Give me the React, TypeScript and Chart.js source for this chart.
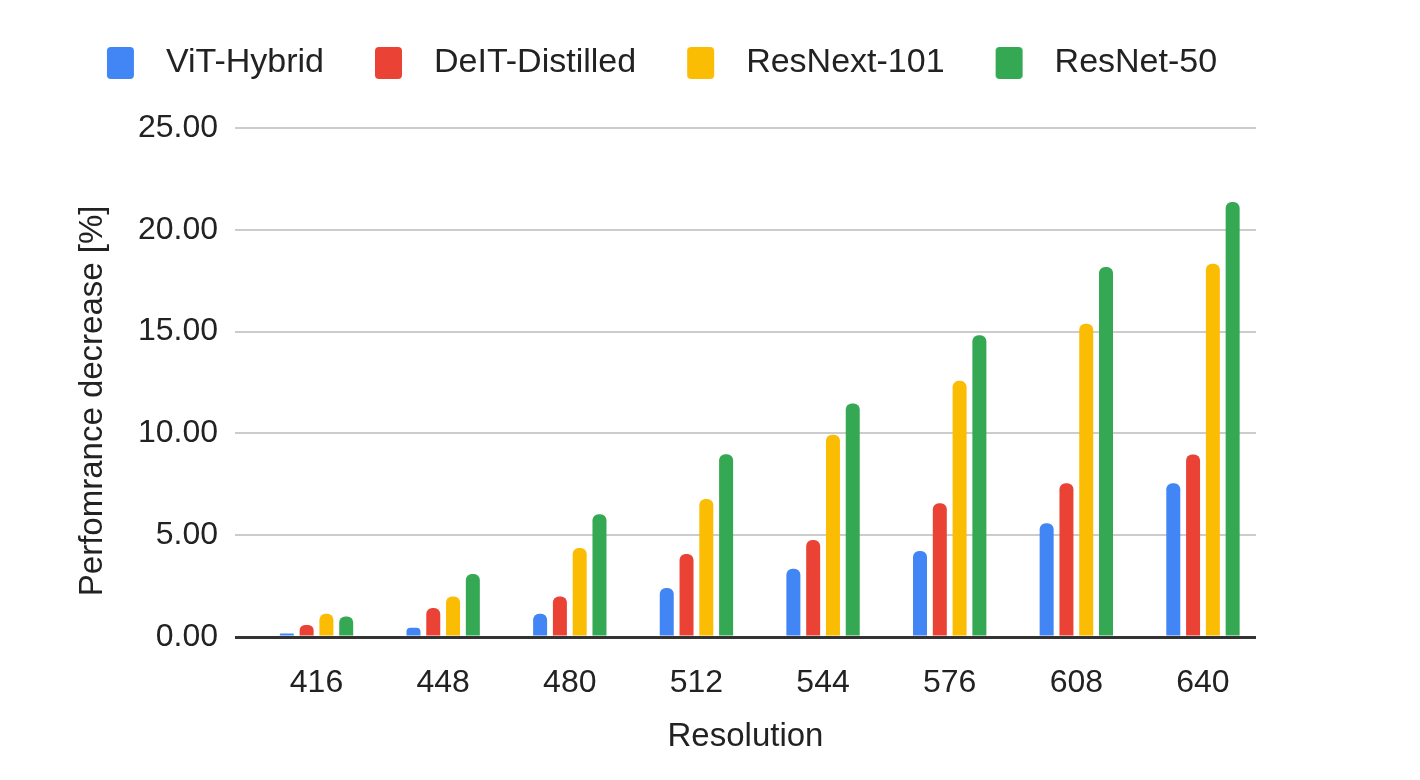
import { useEffect, useRef } from 'react'
import { Chart, registerables } from 'chart.js'

Chart.register(...registerables)

// values
const resolutions = [416, 448, 480, 512, 544, 576, 608, 640]
const vitHybrid = [0.17, 0.46, 1.14, 2.41, 3.35, 4.22, 5.59, 7.55]
const deitDistilled = [0.59, 1.43, 1.99, 4.08, 4.77, 6.57, 7.55, 8.96]
const resnext101 = [1.14, 1.99, 4.37, 6.78, 9.93, 12.58, 15.39, 18.33]
const resnet50 = [1.01, 3.09, 6.03, 8.98, 11.47, 14.82, 18.17, 21.37]

const seriesNames = ['ViT-Hybrid', 'DeIT-Distilled', 'ResNext-101', 'ResNet-50']
const seriesColors = ['#4285f4', '#ea4335', '#fbbc04', '#34a853']
const yTickValues = [0, 5, 10, 15, 20, 25]

const FAMILY = '"Liberation Sans", Arial, Helvetica, sans-serif'
const TEXT = '#222222'

// legend swatch: transparent room in front, rounded box, room after it
function swatch(color: string) {
  const c = document.createElement('canvas')
  c.width = 73
  c.height = 34
  const ctx = c.getContext('2d')!
  ctx.fillStyle = color
  ctx.beginPath()
  ctx.roundRect(31, 1, 27, 32, 4)
  ctx.fill()
  return c
}

export default function App() {
  const canvasRef = useRef<HTMLCanvasElement>(null)

  useEffect(() => {
    document.body.style.margin = '0'
    if (!canvasRef.current) return
    const ctx = canvasRef.current.getContext('2d')
    if (!ctx) return

    const series = [vitHybrid, deitDistilled, resnext101, resnet50]
    const swatches = seriesColors.map(swatch)

    const chart = new Chart(ctx, {
      type: 'bar',
      data: {
        datasets: series.map((values, i) => ({
          label: seriesNames[i],
          data: values.map((v, j) => ({ x: resolutions[j], y: v })),
          backgroundColor: seriesColors[i],
          borderRadius: { topLeft: 6, topRight: 6, bottomLeft: 0, bottomRight: 0 },
          borderSkipped: false,
          categoryPercentage: 0.625,
          barPercentage: 0.707,
        })),
      },
      options: {
        responsive: true,
        maintainAspectRatio: false,
        animation: false,
        layout: { padding: { top: 26, left: 37, right: 164, bottom: 0 } },
        plugins: {
          tooltip: { enabled: false },
          legend: {
            position: 'top',
            labels: {
              usePointStyle: true,
              pointStyleWidth: 73,
              padding: 20,
              color: TEXT,
              font: { family: FAMILY, size: 34 },
              generateLabels: (c) =>
                Chart.defaults.plugins.legend.labels.generateLabels(c).map((item, i) => ({
                  ...item,
                  pointStyle: swatches[i],
                })),
            },
          },
          // empty spacer between the legend and the plot
          subtitle: {
            display: true,
            text: ' ',
            position: 'top',
            weight: 500,
            font: { size: 10, lineHeight: 1 },
            padding: { top: 10, bottom: 18 },
          },
        },
        scales: {
          x: {
            type: 'linear',
            min: 395.4,
            max: 653.4,
            offset: false,
            grid: { display: false },
            border: { display: false },
            afterBuildTicks: (scale) => {
              scale.ticks = resolutions.map((v) => ({ value: v }))
            },
            afterFit: (scale) => {
              scale.height = 143
            },
            ticks: {
              autoSkip: false,
              maxRotation: 0,
              padding: 19,
              color: TEXT,
              font: { family: FAMILY, size: 32 },
              callback: (v) => String(v),
            },
            title: {
              display: true,
              text: 'Resolution',
              color: TEXT,
              font: { family: FAMILY, size: 33 },
              padding: { top: 0, bottom: 23 },
            },
          },
          y: {
            min: 0,
            max: 25,
            afterBuildTicks: (scale) => {
              scale.ticks = yTickValues.map((v) => ({ value: v }))
            },
            afterFit: (scale) => {
              scale.width = 198
            },
            border: { display: false },
            grid: {
              drawTicks: false,
              color: (c) => (c.tick && c.tick.value === 0 ? '#333333' : '#cccccc'),
              lineWidth: (c) => (c.tick && c.tick.value === 0 ? 3 : 2),
            },
            ticks: {
              padding: 17,
              color: TEXT,
              font: { family: FAMILY, size: 32 },
              callback: (v) => Number(v).toFixed(2),
            },
            title: {
              display: true,
              text: 'Perfomrance decrease [%]    ',
              color: TEXT,
              font: { family: FAMILY, size: 33 },
              padding: { top: 36, bottom: 0 },
            },
          },
        },
      },
    })

    return () => {
      chart.destroy()
    }
  }, [])

  return (
    <div style={{ width: 1420, height: 780, position: 'relative', background: '#ffffff' }}>
      <canvas ref={canvasRef} />
    </div>
  )
}
